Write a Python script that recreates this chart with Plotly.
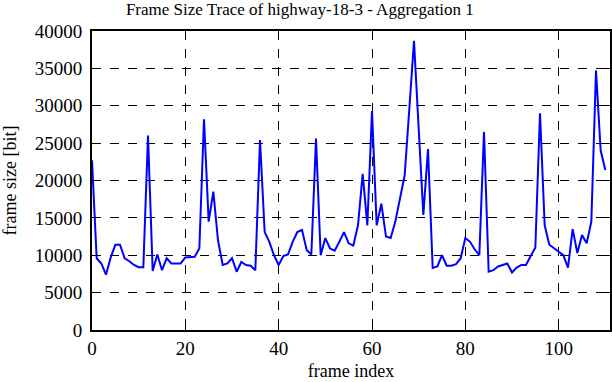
import plotly.graph_objects as go

frame_size = [
    22700, 9600, 8900, 7400, 9700, 11400, 11400, 9600, 9200, 8700,
    8400, 8400, 26000, 7900, 10100, 8000, 9600, 8900, 8900, 8900,
    9700, 9800, 9800, 10900, 28200, 14500, 18500, 12000, 8700, 8900,
    9600, 7800, 9100, 8700, 8600, 8000, 25400, 13100, 11800, 10000,
    8700, 9900, 10100, 11800, 13100, 13400, 10700, 10100, 25600, 10000,
    12300, 10900, 10600, 11800, 13100, 11600, 11300, 14000, 20900, 14000,
    29300, 14000, 16900, 12500, 12300, 14500, 17600, 20700, 29600, 38700,
    27000, 15400, 24200, 8300, 8500, 10000, 8600, 8600, 8800, 9600,
    12300, 11800, 10800, 10000, 26500, 7800, 8000, 8500, 8700, 8900,
    7700, 8350, 8700, 8700, 9900, 11000, 29000, 14000, 11400, 10900,
    10500, 10000, 8350, 13500, 10300, 12700, 11600, 14500, 34700, 24000,
    21400,
]
frame_index = list(range(len(frame_size)))

x_ticks = [0, 20, 40, 60, 80, 100]
y_ticks = [0, 5000, 10000, 15000, 20000, 25000, 30000, 35000, 40000]

font = "Liberation Serif, Times New Roman, serif"

fig = go.Figure()
fig.add_trace(go.Scatter(
    x=frame_index, y=frame_size, mode="lines",
    line=dict(color="#0000ff", width=2),
    showlegend=False, hoverinfo="skip",
))

axis_common = dict(
    showline=True, linecolor="black", linewidth=2, mirror="allticks",
    ticks="inside", ticklen=6, tickcolor="black", tickwidth=1,
    showgrid=True, gridcolor="black", griddash="dash", gridwidth=1,
    zeroline=False, tickformat="d",
    tickfont=dict(family=font, size=19, color="black"),
    automargin=False,
)

fig.update_layout(
    width=612, height=382,
    margin=dict(l=92, r=2, t=31, b=52),
    paper_bgcolor="white", plot_bgcolor="white",
    title=dict(text="Frame Size Trace of highway-18-3 - Aggregation 1",
               x=0.49, xanchor="center", y=0.976, yanchor="middle",
               font=dict(family=font, size=17, color="black")),
    xaxis=dict(range=[0, 111], tickvals=x_ticks,
               title=dict(text="frame index", standoff=7,
                          font=dict(family=font, size=18, color="black")),
               **axis_common),
    yaxis=dict(range=[0, 40000], tickvals=y_ticks, ticklabelstandoff=4,
               title=dict(text="frame size [bit]", standoff=15,
                          font=dict(family=font, size=18, color="black")),
               **axis_common),
)

fig.write_html("out.html", config={"displayModeBar": False},
               post_script="document.body.style.margin='0';")
